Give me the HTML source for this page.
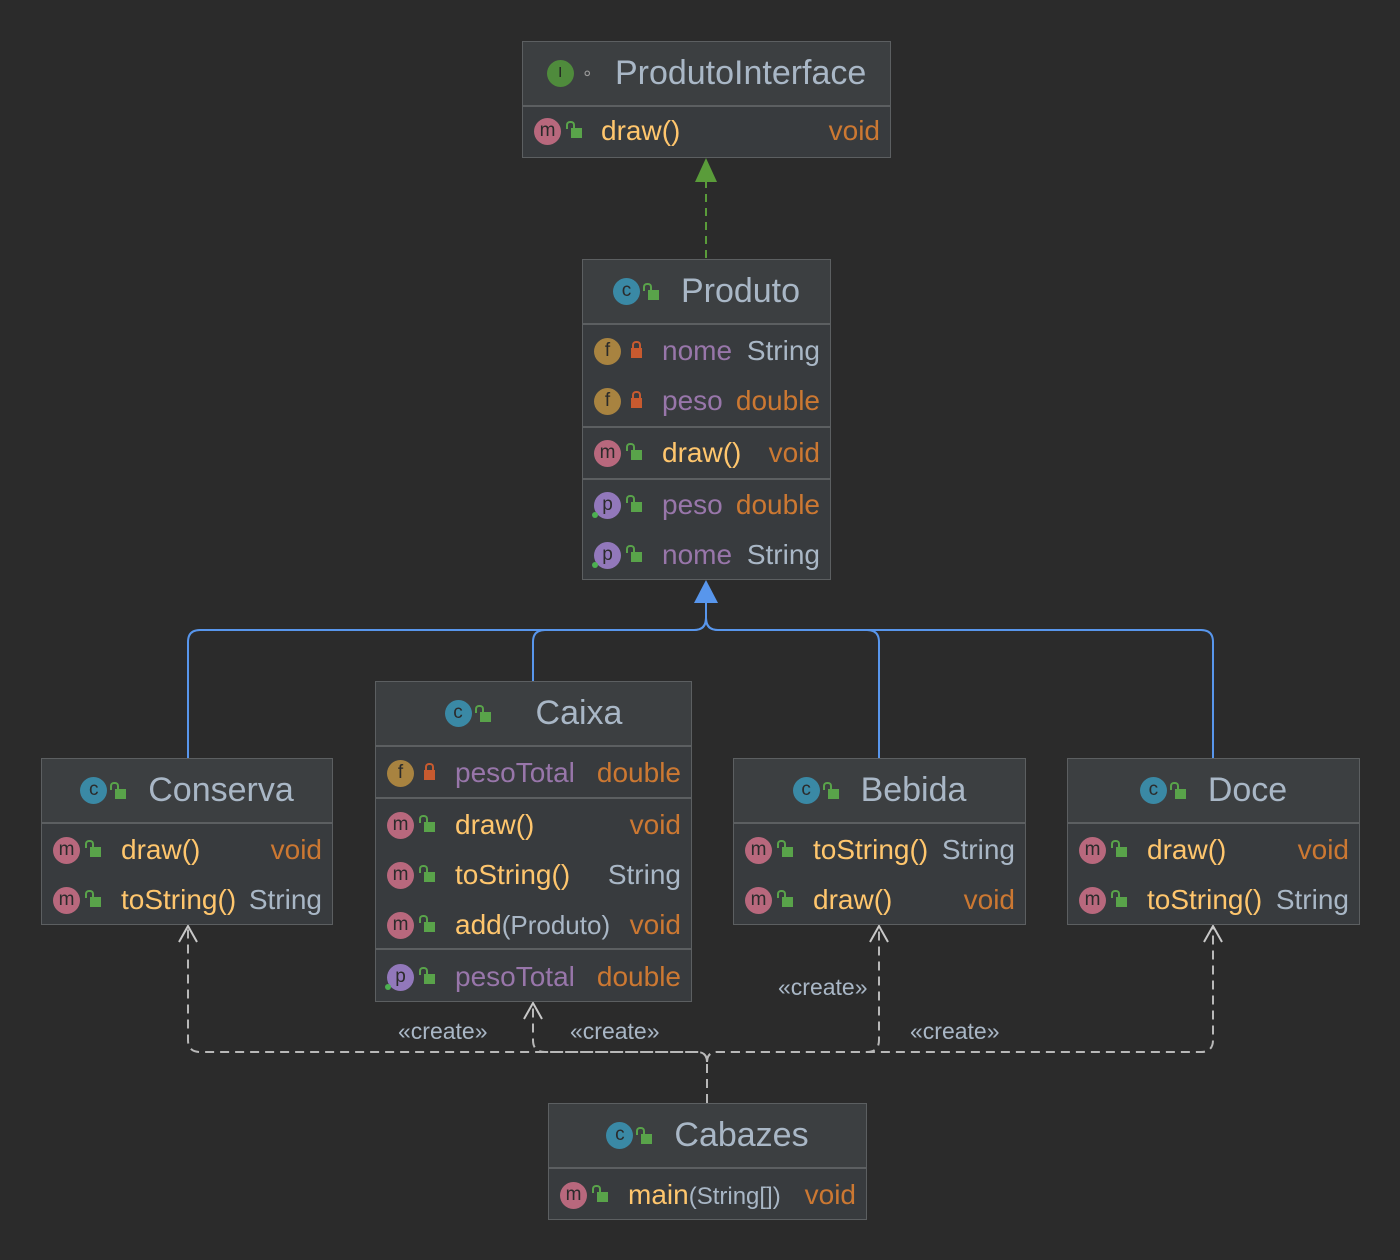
<!DOCTYPE html>
<html><head><meta charset="utf-8"><style>
body{margin:0;width:1400px;height:1260px;background:#2b2b2b;position:relative;overflow:hidden;font-family:"Liberation Sans","DejaVu Sans",sans-serif}
.b{position:absolute;background:#383b3e;border:1.5px solid #5c5f61;box-sizing:border-box}
.h{position:absolute;left:0;right:0;top:0;height:63px;background:#3c3f41;border-bottom:2px solid #5c5f61;display:flex;align-items:center;justify-content:center;gap:0;color:#a9b7c6;font-size:34px}
.d{position:absolute;left:0;right:0;height:0;border-top:2px solid #5c5f61}
.r{position:absolute;left:0;right:0;height:50px;line-height:50px;font-size:28px;white-space:nowrap}
.ic{position:absolute;left:11px;top:12px;width:27px;height:27px;border-radius:50%;font-size:19px;line-height:25px;text-align:center;color:#2b2b2b}
.hi{display:inline-block;width:27px;height:27px;border-radius:50%;font-size:19px;line-height:25px;text-align:center;color:#2b2b2b;margin-right:8px}
.m{background:#b8687d}.f{background:#a88340}.p{background:#9278bb}.c{background:#3a89a5}.i{background:#4f8b3c}
.lk{position:absolute;left:48px;top:22px;width:11px;height:10px;background:#59a34a}
.lk:before{content:"";position:absolute;left:-5px;top:-7px;width:5px;height:6px;border:2px solid #59a34a;border-bottom:none;border-radius:4px 4px 0 0}
.lr{background:#c75a2f}.lr:before{left:1px;border-color:#c75a2f}
.hl{display:inline-block;position:relative;width:11px;height:10px;background:#59a34a;margin-right:22px;margin-top:6px}
.hl:before{content:"";position:absolute;left:-5px;top:-7px;width:5px;height:6px;border:2px solid #59a34a;border-bottom:none;border-radius:4px 4px 0 0}
.n{position:absolute;left:72px}
.t{position:absolute;right:10px}
.y{color:#ffc66d}.o{color:#cc7832}.s{color:#a9b7c6}.v{color:#9876aa}
.dot{position:absolute;left:9px;top:32px;width:6px;height:6px;border-radius:50%;background:#4caf50}
.lbl{position:absolute;font-size:23px;color:#a9b7c6}
</style></head><body>
<svg width="1400" height="1260" style="position:absolute;left:0;top:0">
<g fill="none" stroke="#5a9c3a" stroke-width="2"><path d="M706 258V180" stroke-dasharray="8,6"/></g>
<polygon points="706,158 695,182 717,182" fill="#5a9c3a"/>
<g fill="none" stroke="#5896ec" stroke-width="2">
<path d="M706 600V618Q706 630 694 630H200Q188 630 188 642V758"/>
<path d="M706 618Q706 630 694 630H545Q533 630 533 642V681"/>
<path d="M706 618Q706 630 718 630H867Q879 630 879 642V758"/>
<path d="M706 618Q706 630 718 630H1201Q1213 630 1213 642V758"/>
</g>
<polygon points="706,580 694,603 718,603" fill="#5896ec"/>
<g fill="none" stroke="#b8b8b8" stroke-width="2" stroke-dasharray="9,6">
<path d="M707 1103V1062Q707 1052 697 1052H200Q188 1052 188 1040V927"/>
<path d="M707 1062Q707 1052 697 1052H545Q533 1052 533 1040V1003"/>
<path d="M707 1062Q707 1052 717 1052H867Q879 1052 879 1040V927"/>
<path d="M707 1062Q707 1052 717 1052H1201Q1213 1052 1213 1040V927"/>
</g>
<g fill="none" stroke="#c8c8c8" stroke-width="2">
<path d="M179 942L188 926L197 942"/><path d="M524 1019L533 1003L542 1019"/>
<path d="M870 942L879 926L888 942"/><path d="M1204 942L1213 926L1222 942"/>
</g>
</svg>
<div class="lbl" style="left:398px;top:1018px">«create»</div>
<div class="lbl" style="left:570px;top:1018px">«create»</div>
<div class="lbl" style="left:778px;top:974px">«create»</div>
<div class="lbl" style="left:910px;top:1018px">«create»</div>

<!-- ProdutoInterface -->
<div class="b" style="left:522px;top:41px;width:369px;height:117px">
<div class="h"><span class="hi i" style="color:#222;font-size:15px">I</span><span style="color:#999;font-size:18px;margin-right:22px">∘</span>ProdutoInterface</div>
<div class="r" style="top:64px"><span class="ic m">m</span><span class="lk"></span><span class="n y" style="left:78px">draw()</span><span class="t o">void</span></div>
</div>

<!-- Produto -->
<div class="b" style="left:582px;top:259px;width:249px;height:321px">
<div class="h"><span class="hi c">c</span><span class="hl"></span>Produto</div>
<div class="r" style="top:66px"><span class="ic f">f</span><span class="lk lr"></span><span class="n v" style="left:79px">nome</span><span class="t s">String</span></div>
<div class="r" style="top:116px"><span class="ic f">f</span><span class="lk lr"></span><span class="n v" style="left:79px">peso</span><span class="t o">double</span></div>
<div class="d" style="top:166px"></div>
<div class="r" style="top:168px"><span class="ic m">m</span><span class="lk"></span><span class="n y" style="left:79px">draw()</span><span class="t o">void</span></div>
<div class="d" style="top:218px"></div>
<div class="r" style="top:220px"><span class="ic p">p</span><span class="dot"></span><span class="lk"></span><span class="n v" style="left:79px">peso</span><span class="t o">double</span></div>
<div class="r" style="top:270px"><span class="ic p">p</span><span class="dot"></span><span class="lk"></span><span class="n v" style="left:79px">nome</span><span class="t s">String</span></div>
</div>

<!-- Caixa -->
<div class="b" style="left:375px;top:681px;width:317px;height:321px">
<div class="h"><span class="hi c">c</span><span class="hl" style="margin-right:45px"></span>Caixa</div>
<div class="r" style="top:66px"><span class="ic f">f</span><span class="lk lr"></span><span class="n v" style="left:79px">pesoTotal</span><span class="t o">double</span></div>
<div class="d" style="top:115px"></div>
<div class="r" style="top:118px"><span class="ic m">m</span><span class="lk"></span><span class="n y" style="left:79px">draw()</span><span class="t o">void</span></div>
<div class="r" style="top:168px"><span class="ic m">m</span><span class="lk"></span><span class="n y" style="left:79px">toString()</span><span class="t s">String</span></div>
<div class="r" style="top:218px"><span class="ic m">m</span><span class="lk"></span><span class="n y" style="left:79px">add<span class="s" style="font-size:26px">(Produto)</span></span><span class="t o">void</span></div>
<div class="d" style="top:266px"></div>
<div class="r" style="top:270px"><span class="ic p">p</span><span class="dot"></span><span class="lk"></span><span class="n v" style="left:79px">pesoTotal</span><span class="t o">double</span></div>
</div>

<!-- Conserva -->
<div class="b" style="left:41px;top:758px;width:292px;height:167px">
<div class="h"><span class="hi c">c</span><span class="hl"></span>Conserva</div>
<div class="r" style="top:66px"><span class="ic m">m</span><span class="lk"></span><span class="n y" style="left:79px">draw()</span><span class="t o">void</span></div>
<div class="r" style="top:116px"><span class="ic m">m</span><span class="lk"></span><span class="n y" style="left:79px">toString()</span><span class="t s">String</span></div>
</div>

<!-- Bebida -->
<div class="b" style="left:733px;top:758px;width:293px;height:167px">
<div class="h"><span class="hi c">c</span><span class="hl"></span>Bebida</div>
<div class="r" style="top:66px"><span class="ic m">m</span><span class="lk"></span><span class="n y" style="left:79px">toString()</span><span class="t s">String</span></div>
<div class="r" style="top:116px"><span class="ic m">m</span><span class="lk"></span><span class="n y" style="left:79px">draw()</span><span class="t o">void</span></div>
</div>

<!-- Doce -->
<div class="b" style="left:1067px;top:758px;width:293px;height:167px">
<div class="h"><span class="hi c">c</span><span class="hl"></span>Doce</div>
<div class="r" style="top:66px"><span class="ic m">m</span><span class="lk"></span><span class="n y" style="left:79px">draw()</span><span class="t o">void</span></div>
<div class="r" style="top:116px"><span class="ic m">m</span><span class="lk"></span><span class="n y" style="left:79px">toString()</span><span class="t s">String</span></div>
</div>

<!-- Cabazes -->
<div class="b" style="left:548px;top:1103px;width:319px;height:117px">
<div class="h"><span class="hi c">c</span><span class="hl"></span>Cabazes</div>
<div class="r" style="top:66px"><span class="ic m">m</span><span class="lk"></span><span class="n y" style="left:79px">main<span class="s" style="font-size:24px">(String[])</span></span><span class="t o">void</span></div>
</div>
</body></html>
